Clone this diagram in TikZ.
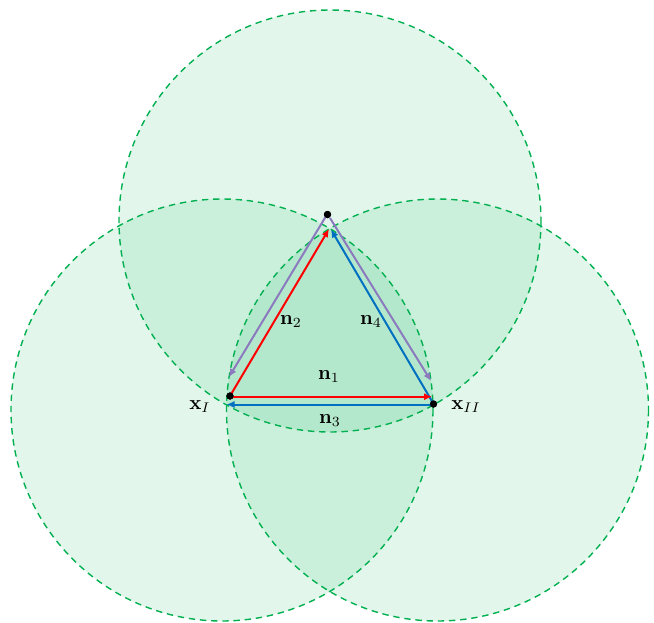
\documentclass[tikz,border=0pt]{standalone}
\usetikzlibrary{arrows.meta}
\definecolor{cgreen}{RGB}{0,176,80}
\definecolor{cred}{RGB}{255,0,0}
\definecolor{cblue}{RGB}{0,112,192}
\definecolor{cpurple}{RGB}{140,122,190}
\begin{document}
\begin{tikzpicture}[x=0.5pt,y=-0.5pt,
  zone/.style={draw=cgreen,line width=0.7pt,dash pattern=on 3.2pt off 2.4pt,fill=cgreen,fill opacity=0.11,draw opacity=1},
  vec/.style={line width=1pt,-{Latex[length=4pt,width=3.6pt]}},
  dot/.style={circle,fill=black,inner sep=0pt,minimum size=3.6pt},
  lab/.style={inner sep=0pt}]
\useasboundingbox (0,0) rectangle (654,622);
\draw[zone] (330,221) circle[radius=211];
\draw[zone] (222,410) circle[radius=211];
\draw[zone] (437.5,410) circle[radius=211];
\node[dot] (T) at (327.5,214.5) {};
\node[dot] (xI) at (230,396) {};
\node[dot] (xII) at (433.5,404) {};
\coordinate (n1s) at (230,396.7);
\coordinate (n1e) at (432,396.7);
\coordinate (n3s) at (433.5,404.5);
\coordinate (n3e) at (226.5,404.5);
\coordinate (n2s) at (230,396);
\coordinate (n2e) at (329,229);
\coordinate (n4s) at (433,403);
\coordinate (n4e) at (331,229.5);
\coordinate (pls) at (325.5,217);
\coordinate (ple) at (229,377);
\coordinate (prs) at (330,218);
\coordinate (pre) at (431,381);
\draw[vec,cpurple] (pls) -- (ple);
\draw[vec,cpurple] (prs) -- (pre);
\draw[vec,cred] (n2s) -- (n2e);
\draw[vec,cblue] (n4s) -- (n4e);
\draw[vec,cblue] (n3s) -- (n3e);
\draw[vec,cred] (n1s) -- (n1e);
\node[dot] at (T) {};
\node[dot] at (xI) {};
\node[dot] at (xII) {};
\node[lab] (l2) at (291,322) {$\mathbf{n}_2$};
\node[lab] (l4) at (371,322) {$\mathbf{n}_4$};
\node[lab] (l1) at (329,377) {$\mathbf{n}_1$};
\node[lab] (l3) at (330,421) {$\mathbf{n}_3$};
\node[lab] (lI) at (200,407) {$\mathbf{x}_I$};
\node[lab] (lII) at (466,407) {$\mathbf{x}_{II}$};
\end{tikzpicture}
\end{document}
